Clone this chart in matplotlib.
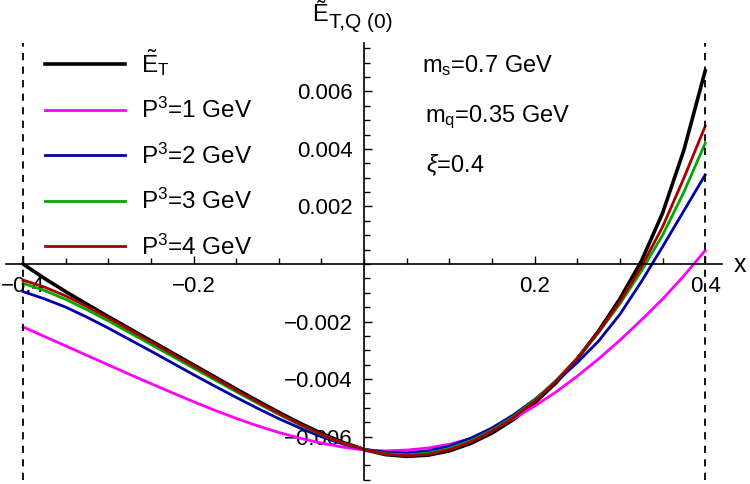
import numpy as np
import matplotlib
matplotlib.use('Agg')
import matplotlib.pyplot as plt
from matplotlib.ticker import MultipleLocator, FixedLocator

plt.rcParams['font.family'] = ['Liberation Sans', 'DejaVu Sans']
plt.rcParams['mathtext.fontset'] = 'custom'
plt.rcParams['mathtext.rm'] = 'Liberation Sans'
plt.rcParams['mathtext.it'] = 'Liberation Sans:italic'

# values
x = [-0.400, -0.375, -0.350, -0.325, -0.300, -0.275, -0.250, -0.225, -0.200,
     -0.175, -0.150, -0.125, -0.100, -0.075, -0.050, -0.025, 0.000,
     0.025, 0.050, 0.075, 0.100, 0.125, 0.150, 0.175, 0.200,
     0.225, 0.250, 0.275, 0.300, 0.325, 0.350, 0.375, 0.400]
et = [0.0, -0.00050, -0.00096, -0.00140, -0.00183, -0.00225, -0.00267, -0.00309, -0.00351,
      -0.00393, -0.00435, -0.00476, -0.00516, -0.00554, -0.00589, -0.00620, -0.00645,
      -0.00663, -0.00669, -0.00665, -0.00650, -0.00624, -0.00588, -0.00541, -0.00483,
      -0.00413, -0.00330, -0.00233, -0.00121, 0.00009, 0.00177, 0.00396, 0.00672]
p1 = [-0.00219, -0.00252, -0.00285, -0.00318, -0.00351, -0.00384, -0.00416, -0.00448, -0.00479,
      -0.00509, -0.00537, -0.00563, -0.00586, -0.00606, -0.00623, -0.00637, -0.00647,
      -0.00650, -0.00647, -0.00640, -0.00627, -0.00607, -0.00575, -0.00538, -0.00494,
      -0.00445, -0.00390, -0.00330, -0.00265, -0.00195, -0.00122, -0.00041, 0.00047]
p2 = [-0.00096, -0.00121, -0.00150, -0.00185, -0.00223, -0.00263, -0.00303, -0.00344, -0.00385,
      -0.00425, -0.00464, -0.00502, -0.00538, -0.00571, -0.00601, -0.00626, -0.00644,
      -0.00655, -0.00657, -0.00650, -0.00633, -0.00606, -0.00570, -0.00525, -0.00471,
      -0.00410, -0.00343, -0.00268, -0.00175, -0.00062, 0.00060, 0.00185, 0.00310]
p3 = [-0.00067, -0.00092, -0.00123, -0.00159, -0.00198, -0.00239, -0.00280, -0.00321, -0.00362,
      -0.00403, -0.00444, -0.00484, -0.00523, -0.00560, -0.00594, -0.00623, -0.00645,
      -0.00660, -0.00664, -0.00658, -0.00642, -0.00615, -0.00578, -0.00531, -0.00473,
      -0.00405, -0.00327, -0.00238, -0.00138, -0.00025, 0.00100, 0.00250, 0.00420]
p4 = [-0.00056, -0.00080, -0.00111, -0.00148, -0.00188, -0.00229, -0.00271, -0.00313, -0.00355,
      -0.00397, -0.00439, -0.00480, -0.00520, -0.00558, -0.00593, -0.00623, -0.00645,
      -0.00662, -0.00667, -0.00662, -0.00646, -0.00619, -0.00582, -0.00535, -0.00477,
      -0.00408, -0.00328, -0.00236, -0.00131, -0.00011, 0.00129, 0.00299, 0.00479]

series = [(et, 'black', r'$\tilde{\mathrm{E}}_{\mathrm{T}}$', 2.6),
          (p1, '#ff00ff', r'P$^{3}$=1 GeV', 2.0),
          (p2, '#0000a8', r'P$^{3}$=2 GeV', 2.0),
          (p3, '#00a800', r'P$^{3}$=3 GeV', 2.0),
          (p4, '#a80000', r'P$^{3}$=4 GeV', 2.0)]

fig = plt.figure(figsize=(7.5, 4.84), dpi=100)
ax = fig.add_axes([0.008, 0.009, 0.955, 0.903])

for ys, color, label, lw in series:
    ax.plot(x, ys, color=color, lw=lw, label=label, solid_joinstyle='round')

ax.axvline(-0.4, color='black', lw=1.3, ls=(0, (4, 3.5)))
ax.axvline(0.4, color='black', lw=1.3, ls=(0, (4, 3.5)))

ax.set_xlim(-0.42, 0.42)
ax.set_ylim(-0.0075, 0.0077)

ax.spines['left'].set_position('zero')
ax.spines['bottom'].set_position('zero')
ax.spines['top'].set_visible(False)
ax.spines['right'].set_visible(False)
for s in ['left', 'bottom']:
    ax.spines[s].set_linewidth(1.2)

ax.xaxis.set_major_locator(FixedLocator([-0.4, -0.2, 0.2, 0.4]))
ax.xaxis.set_minor_locator(MultipleLocator(0.05))
ax.yaxis.set_major_locator(FixedLocator([-0.006, -0.004, -0.002, 0.002, 0.004, 0.006]))
ax.yaxis.set_minor_locator(MultipleLocator(0.0005))
ax.set_xticklabels(['\u22120.4', '\u22120.2', '0.2', '0.4'])
ax.set_yticklabels(['\u22120.006', '\u22120.004', '\u22120.002', '0.002', '0.004', '0.006'])
ax.tick_params(which='both', direction='in', labelsize=16, width=1)
ax.tick_params(which='major', length=6)
ax.tick_params(which='minor', length=4)
ax.tick_params(axis='x', pad=9)
ax.tick_params(axis='y', pad=8)

# axis labels
fig.text(734 / 750, 1 - 265 / 484, 'x', fontsize=18, ha='left', va='center')
fig.text(328 / 750, 1 - 15 / 484, '\u1ebc', fontsize=17, ha='right', va='center')
fig.text(329 / 750, 1 - 22 / 484, 'T,Q (0)', fontsize=15, ha='left', va='center')

ax.text(0.068, 0.00689, r'm$_{\mathrm{s}}$=0.7 GeV', fontsize=17, va='center')
ax.text(0.071, 0.00511, r'm$_{\mathrm{q}}$=0.35 GeV', fontsize=17, va='center')
ax.text(0.072, 0.00344, r'$\xi$=0.4', fontsize=17, va='center')

ax.legend(loc='upper left', bbox_to_anchor=(45 / 750, 1 - 47 / 484),
          bbox_transform=fig.transFigure, frameon=False, fontsize=17.5,
          borderpad=0, borderaxespad=0, handlelength=3.3, handletextpad=0.65,
          labelspacing=0.83)

fig.savefig('out.png', dpi=100)
